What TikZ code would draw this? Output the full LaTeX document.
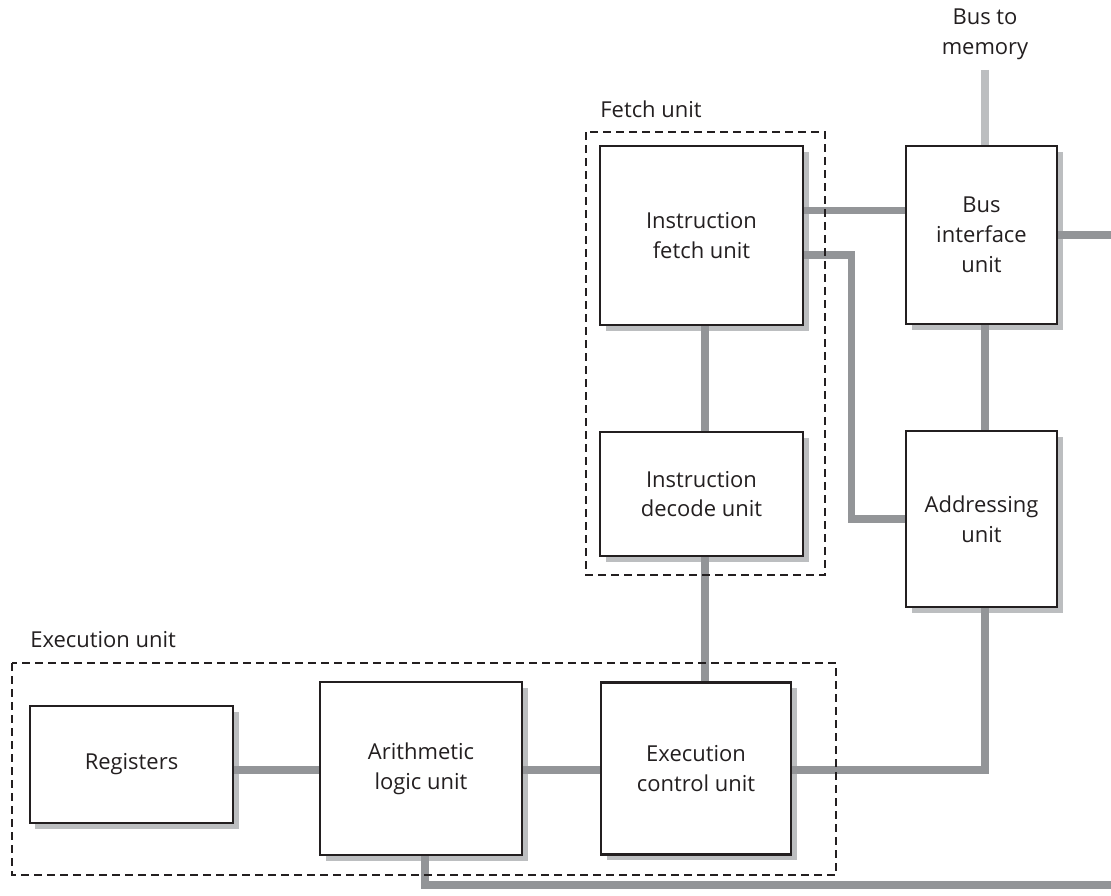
\documentclass[tikz,border=0pt]{standalone}
\usepackage{fontspec}
\setmainfont{Open Sans}
\usetikzlibrary{shadows,calc}
\definecolor{ink}{HTML}{231F20}
\definecolor{wire}{HTML}{939598}
\definecolor{membus}{HTML}{BCBEC0}
\definecolor{shade}{HTML}{BCBEC0}
\tikzset{
  unit/.style={draw=ink,line width=1.5pt,fill=white,align=center,text=ink,inner sep=0pt,
    drop shadow={shadow xshift=1.1mm,shadow yshift=-1.1mm,fill=shade,opacity=1}},
  wire/.style={draw=wire,line width=4pt},
  frame/.style={draw=ink,line width=1.2pt,dash pattern=on 1.6mm off 1mm},
  caption/.style={text=ink,align=center,inner sep=0pt}
}

\begin{document}
\begin{tikzpicture}[x=0.2mm,y=-0.2mm,font=\fontsize{12.5}{17}\selectfont]
 \useasboundingbox (0,0) rectangle (1111,896);
 % units
 \node[unit,minimum width=4.06cm,minimum height=3.58cm] (ifu) at (701.5,235.5) {Instruction\\fetch unit};
 \node[unit,minimum width=4.06cm,minimum height=2.48cm] (idu) at (701.5,494) {Instruction\\decode unit};
 \node[unit,minimum width=3.02cm,minimum height=3.56cm] (biu) at (981.5,235) {Bus\\interface\\unit};
 \node[unit,minimum width=3.02cm,minimum height=3.52cm] (addr) at (981.5,519) {Addressing\\unit};
 \node[unit,minimum width=4.06cm,minimum height=2.34cm] (reg) at (131.5,764.5) {Registers};
 \node[unit,minimum width=4.04cm,minimum height=3.46cm] (alu) at (421,768.5) {Arithmetic\\logic unit};
 \node[unit,minimum width=3.8cm,minimum height=3.44cm] (ecu) at (696,768.5) {Execution\\control unit};
 \node[caption] (busmem) at (985,34) {Bus to\\memory};
 \coordinate (memport) at (1111,235);
 \coordinate (sysbus) at (1111,885);
 % connections
 \draw[draw=membus,line width=4pt,shorten <=2mm] (busmem.south) -- (busmem.south |- biu.north);
 \draw[wire] ([yshift=5mm]ifu.east) -- ([yshift=5mm]ifu.east -| biu.west);
 \draw[wire] ([yshift=-3.9mm]ifu.east) -- ++(47,0) |- (addr.west);
 \draw[wire] (biu.east) -- (memport);
 \draw[wire] ([xshift=0.07cm]biu.south) -- ([xshift=0.07cm]addr.north);
 \draw[wire] ([xshift=0.07cm]ifu.south) -- ([xshift=0.07cm]idu.north);
 \draw[wire] ([xshift=0.07cm]idu.south) -- ([xshift=0.07cm]idu.south |- ecu.north);
 \draw[wire] ([xshift=0.07cm]addr.south) |- ([yshift=-0.03cm]ecu.east);
 \draw[wire] ([yshift=-0.03cm]alu.west -| reg.east) -- ([yshift=-0.03cm]alu.west);
 \draw[wire] ([yshift=-0.03cm]alu.east) -- ([yshift=-0.03cm]ecu.west);
 \draw[wire] ([xshift=0.08cm]alu.south) |- (sysbus);
 % groups
 \draw[frame] (586,132) rectangle (825,575);
 \draw[frame] (12,663) rectangle (836,875);
 \node[caption,anchor=base west] (fetchlbl) at (600,117) {Fetch unit};
 \node[caption,anchor=base west] (execlbl) at (30,647) {Execution unit};
\end{tikzpicture}
\end{document}
